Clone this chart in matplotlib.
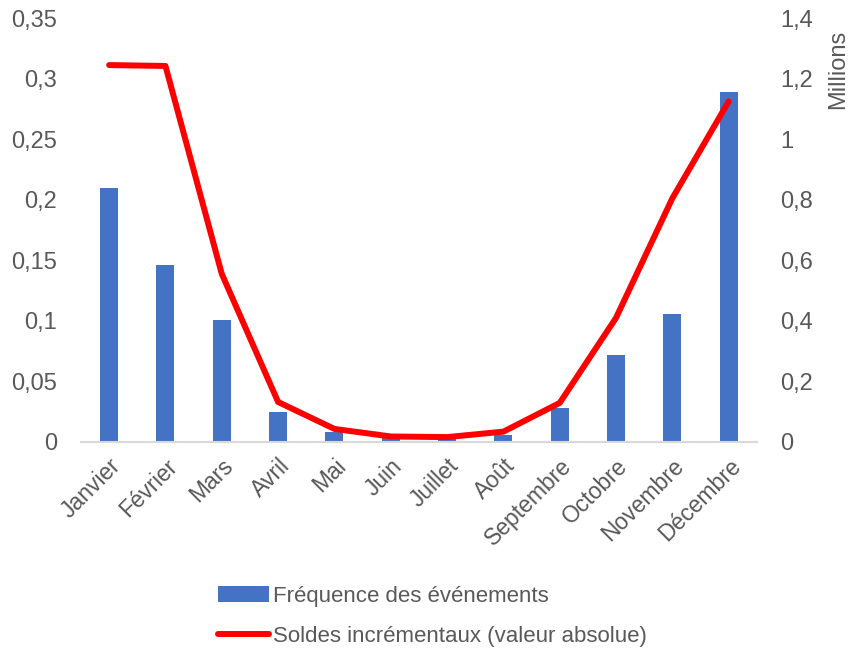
import matplotlib.pyplot as plt
from matplotlib.ticker import FuncFormatter

mois = ["Janvier", "Février", "Mars", "Avril", "Mai", "Juin", "Juillet",
        "Août", "Septembre", "Octobre", "Novembre", "Décembre"]
frequence = [0.21, 0.146, 0.101, 0.025, 0.008, 0.004, 0.003, 0.006, 0.028, 0.072, 0.106, 0.289]
soldes = [1.245, 1.242, 0.555, 0.132, 0.043, 0.018, 0.016, 0.034, 0.129, 0.41, 0.805, 1.125]

plt.rcParams['font.family'] = ['Liberation Sans', 'DejaVu Sans']
gris = '#595959'

fig = plt.figure(figsize=(8.48, 6.48), dpi=100)
ax = fig.add_axes([0.0955, 0.318, 0.797, 0.654])
ax2 = ax.twinx()

x = range(len(mois))
barres = ax.bar(x, frequence, width=0.32, color='#4472C4', label='Fréquence des événements', zorder=2)
ligne, = ax2.plot(x, soldes, color='#FF0000', lw=4.3, solid_capstyle='round',
                  solid_joinstyle='round', label='Soldes incrémentaux (valeur absolue)')

ax.set_xlim(-0.5, len(mois) - 0.5)
ax.set_ylim(0, 0.35)
ax2.set_ylim(0, 1.4)
ax.set_yticks([i * 0.05 for i in range(8)])
ax2.set_yticks([i * 0.2 for i in range(8)])

virgule = FuncFormatter(lambda v, p: ('%g' % round(v, 2)).replace('.', ','))
ax.yaxis.set_major_formatter(virgule)
ax2.yaxis.set_major_formatter(virgule)

ax.set_xticks(list(x))
ax.set_xticklabels(mois, rotation=45, ha='right', rotation_mode='anchor', fontsize=16.5, color=gris)
for a in (ax, ax2):
    a.tick_params(axis='y', length=0, labelsize=17, labelcolor=gris, pad=17)
    for s in a.spines.values():
        s.set_visible(False)
ax.tick_params(axis='x', length=0, pad=9)
ax.spines['bottom'].set_visible(True)
ax.spines['bottom'].set_color('#D9D9D9')
ax.spines['bottom'].set_linewidth(1.5)

ax2.set_ylabel('Millions', fontsize=17, color=gris, va='bottom')
ax2.yaxis.set_label_coords(1.136, 0.88)

fig.legend([barres, ligne], [barres.get_label(), ligne.get_label()],
           loc='upper left', bbox_to_anchor=(0.233, 0.127), frameon=False, fontsize=16,
           labelcolor=gris, handlelength=2.3, handletextpad=0.2, labelspacing=0.85)

fig.savefig('out.png', dpi=100)
